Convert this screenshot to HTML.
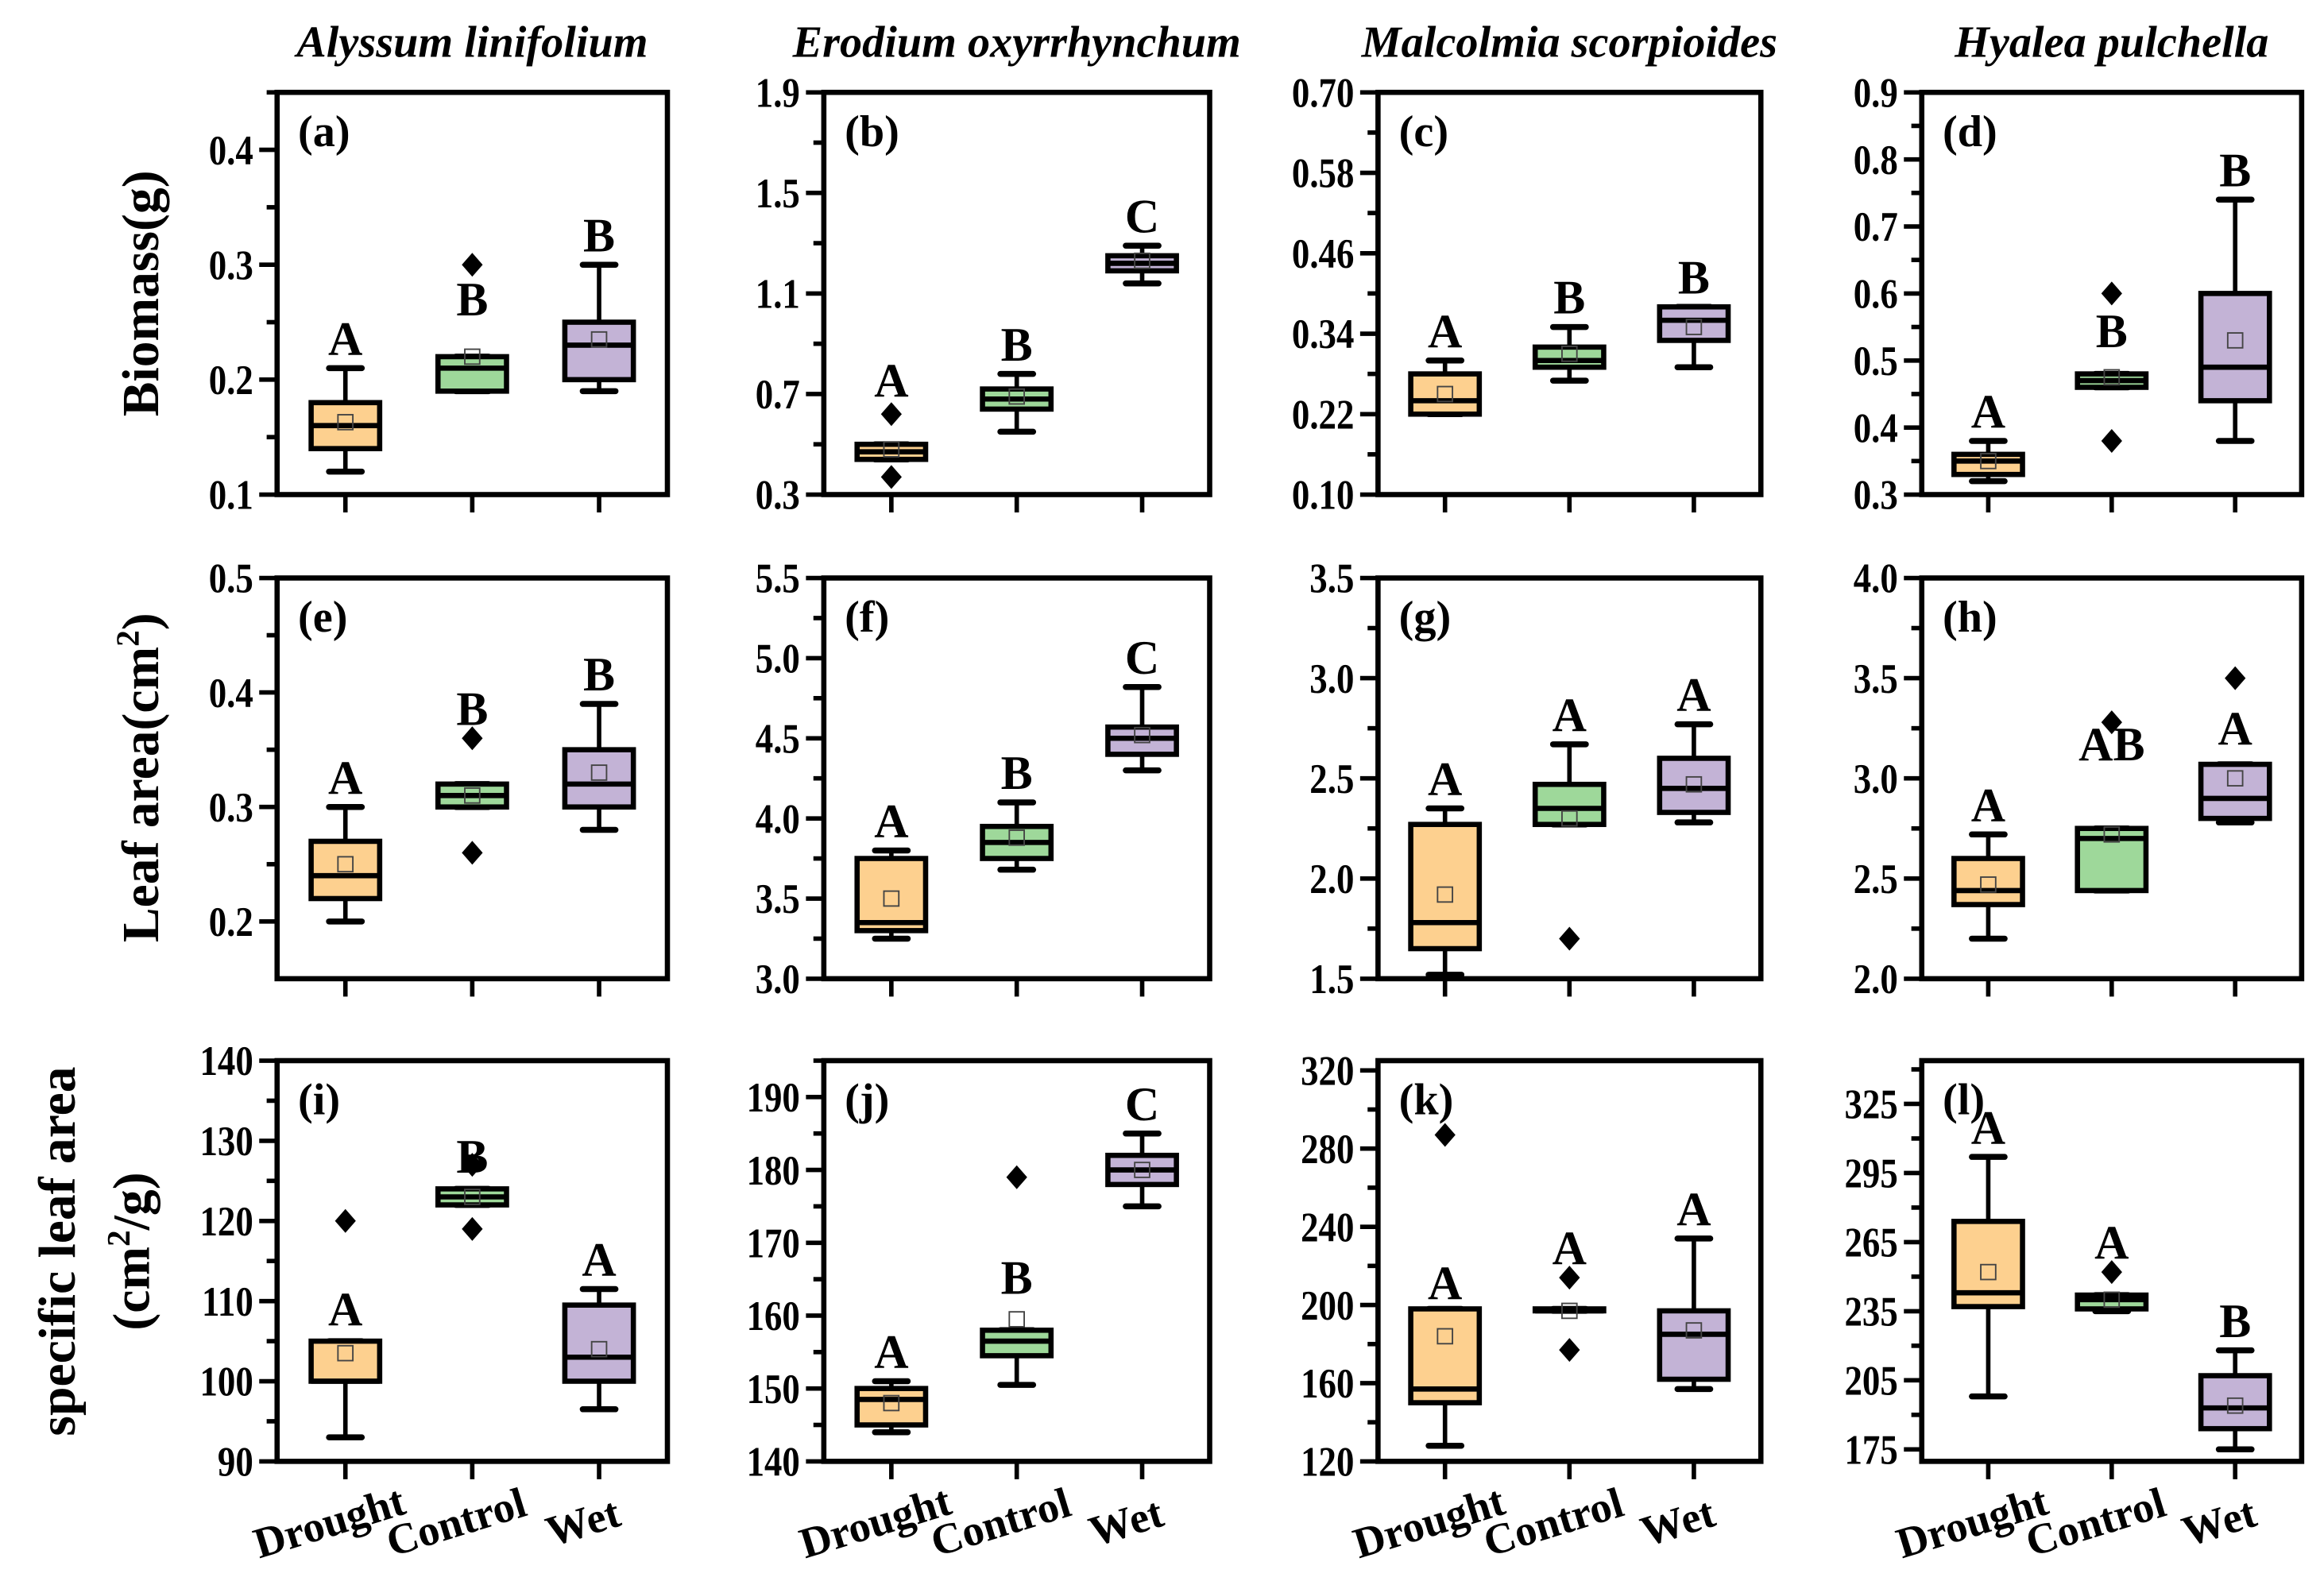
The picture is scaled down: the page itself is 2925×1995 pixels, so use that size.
<!DOCTYPE html>
<html><head><meta charset="utf-8"><style>
html,body{margin:0;padding:0;background:#fff;}
svg{display:block;}
text{font-family:"Liberation Serif",serif;font-weight:bold;fill:#000;}
</style></head><body>
<svg id="chart" width="2925" height="1995" viewBox="0 0 1560 1064" xmlns="http://www.w3.org/2000/svg"></svg>
<script>
const categories = ["Drought","Control","Wet"];
const colors = ["#FDD08F","#9ED89A","#C3B3D6"];
const species = ["Alyssum linifolium","Erodium oxyrrhynchum","Malcolmia scorpioides","Hyalea pulchella"];
const panelLabels = ["(a)","(b)","(c)","(d)","(e)","(f)","(g)","(h)","(i)","(j)","(k)","(l)"];
// y ranges [min,max,majorStep,decimals]
const yRanges = [
 [0.1,0.45,0.1,1],[0.3,1.9,0.4,1],[0.10,0.70,0.12,2],[0.3,0.9,0.1,1],
 [0.15,0.5,0.1,1],[3.0,5.5,0.5,1],[1.5,3.5,0.5,1],[2.0,4.0,0.5,1],
 [90,140,10,0],[140,195,10,0],[120,325,40,0],[169.8,343.8,30,0]];
const tickStarts = [0.1,0.3,0.10,0.3, 0.2,3.0,1.5,2.0, 90,140,120,175];
// [min,q1,median,q3,max,mean]
const boxStats = [
 [[0.12,0.14,0.16,0.18,0.21,0.163],[0.19,0.19,0.21,0.22,0.22,0.22],[0.19,0.20,0.23,0.25,0.30,0.235]],
 [[0.44,0.44,0.47,0.50,0.50,0.48],[0.55,0.64,0.68,0.72,0.78,0.69],[1.14,1.19,1.22,1.25,1.29,1.23]],
 [[0.22,0.22,0.24,0.28,0.30,0.25],[0.27,0.29,0.30,0.32,0.35,0.31],[0.29,0.33,0.36,0.38,0.38,0.35]],
 [[0.32,0.33,0.35,0.36,0.38,0.35],[0.46,0.46,0.47,0.48,0.48,0.475],[0.38,0.44,0.49,0.60,0.74,0.53]],
 [[0.20,0.22,0.24,0.27,0.30,0.25],[0.30,0.30,0.31,0.32,0.32,0.31],[0.28,0.30,0.32,0.35,0.39,0.33]],
 [[3.25,3.30,3.35,3.75,3.80,3.5],[3.68,3.75,3.85,3.95,4.10,3.88],[4.30,4.40,4.50,4.57,4.82,4.52]],
 [[1.52,1.65,1.78,2.27,2.35,1.92],[2.27,2.27,2.35,2.47,2.67,2.30],[2.28,2.33,2.45,2.60,2.77,2.47]],
 [[2.20,2.37,2.44,2.60,2.72,2.47],[2.44,2.44,2.70,2.75,2.75,2.72],[2.78,2.80,2.90,3.07,3.07,3.0]],
 [[93,100,100,105,105,103.5],[122,122,123,124,124,123],[96.5,100,103,109.5,111.5,104]],
 [[144,145,148.5,150,151,148],[150.5,154.5,156.5,158,158,159.5],[175,178,180,182,185,180]],
 [[128,150,157,198,198,184],[197,197,197,198,198,197],[157,162,185,197,234,187]],
 [[198,237,243,274,302,252],[235,236,240,242,242,240],[175,184,193,207,218,194]]];
const outliers = [
 [[],[0.30],[]],[[0.62,0.37],[],[]],[[],[],[]],[[],[0.60,0.38],[]],
 [[],[0.36,0.26],[]],[[],[],[]],[[],[1.70],[]],[[],[3.28],[3.5]],
 [[120],[127,119],[]],[[],[179],[]],[[287],[214,177],[]],[[],[252],[]]];
const letters = [
 ["A","B","B"],["A","B","C"],["A","B","B"],["A","B","B"],
 ["A","B","B"],["A","B","C"],["A","A","A"],["A","AB","A"],
 ["A","B","A"],["A","B","C"],["A","A","A"],["A","A","B"]];
// letter baseline override (data units) else null
const letterBase = [
 [null,0.256,null],[0.69,null,null],[null,null,null],[null,0.52,null],
 [null,null,null],[null,null,null],[null,null,null],[null,3.09,3.17],
 [107,126,null],[null,163,null],[203,null,null],[null,null,null]];

const svg = document.getElementById('chart');
const NS = "http://www.w3.org/2000/svg";
function mk(tag, attrs, parent){const e=document.createElementNS(NS,tag);for(const k in attrs)e.setAttribute(k,attrs[k]);(parent||svg).appendChild(e);return e;}
const colX = [[186,448],[553,812],[925,1182],[1290,1545]];
const rowY = [[62,332],[388,657],[712,981]];
const xFracs = [0.175,0.5,0.825];

species.forEach((s,i)=>{
  const t = mk('text',{x:(colX[i][0]+colX[i][1])/2,y:38,'text-anchor':'middle','font-size':30,'font-style':'italic'});
  
  
  t.textContent = s;
});

for(let p=0;p<12;p++){
  const r=Math.floor(p/4), c=p%4;
  const [x0,x1]=colX[c], [y0,y1]=rowY[r];
  const [ymin,ymax,step,dec]=yRanges[p];
  const g = mk('g',{});
  
  
  const ys = v => y1 - (v-ymin)/(ymax-ymin)*(y1-y0);
  const xs = k => x0 + xFracs[k]*(x1-x0);
  for(let v=tickStarts[p]; v<=ymax+1e-9; v+=step/2){
    const maj = Math.abs(((v-tickStarts[p])/step) - Math.round((v-tickStarts[p])/step))<1e-6;
    const y=ys(v);
    const tk = mk('line',{x1:x0-(maj?12:7),x2:x0,y1:y,y2:y,stroke:'#000','stroke-width':3},g);
    
    
    if(maj){
      const tl = mk('text',{x:x0-16,y:y+9,'text-anchor':'end','font-size':26,transform:`translate(${x0-16},${y}) scale(0.92,1.08) translate(${-(x0-16)},${-y})`},g);
      
      
      tl.textContent = v.toFixed(dec);
    }
  }
  for(let k=0;k<3;k++){
    const bt = mk('line',{x1:xs(k),x2:xs(k),y1:y1,y2:y1+12,stroke:'#000','stroke-width':3},g);
    
    
  }
  const fr = mk('rect',{x:x0,y:y0,width:x1-x0,height:y1-y0,fill:'none',stroke:'#000','stroke-width':3.5},g);
  
  
  const pl = mk('text',{x:x0+14,y:y0+36,'font-size':30},g);
  
  
  pl.textContent = panelLabels[p];
  for(let k=0;k<3;k++){
    const [mn,q1,md,q3,mx,mean]=boxStats[p][k];
    const cx=xs(k), w=46, cap=22;
    const bg = mk('g',{},g);
    
    
    mk('line',{x1:cx,x2:cx,y1:ys(mx),y2:ys(q3),stroke:'#000','stroke-width':3},bg);
    mk('line',{x1:cx,x2:cx,y1:ys(q1),y2:ys(mn),stroke:'#000','stroke-width':3},bg);
    mk('line',{x1:cx-cap/2,x2:cx+cap/2,y1:ys(mx),y2:ys(mx),stroke:'#000','stroke-width':4,'stroke-linecap':'round'},bg);
    mk('line',{x1:cx-cap/2,x2:cx+cap/2,y1:ys(mn),y2:ys(mn),stroke:'#000','stroke-width':4,'stroke-linecap':'round'},bg);
    mk('rect',{x:cx-w/2,y:ys(q3),width:w,height:Math.max(ys(q1)-ys(q3),1),fill:colors[k],stroke:'#000','stroke-width':3.5},bg);
    mk('line',{x1:cx-w/2,x2:cx+w/2,y1:ys(md),y2:ys(md),stroke:'#000','stroke-width':3.5},bg);
    mk('rect',{x:cx-5,y:ys(mean)-5,width:10,height:10,fill:'none',stroke:'#444','stroke-width':1},bg);
    let top = ys(mx);
    outliers[p][k].forEach(o=>{
      const oy=ys(o);
      const d = mk('path',{d:`M${cx} ${oy-8}L${cx+7} ${oy}L${cx} ${oy+8}L${cx-7} ${oy}Z`,fill:'#000'},bg);
      
      
      top=Math.min(top,oy);
    });
    const lb = letterBase[p][k]!==null ? ys(letterBase[p][k]) : top-9;
    const lt = mk('text',{x:cx,y:lb,'text-anchor':'middle','font-size':32},bg);
    
    
    lt.textContent = letters[p][k];
    if(r===2){
      const xl = mk('text',{x:0,y:0,'text-anchor':'middle','font-size':29,transform:`translate(${cx-8},${y1+50}) rotate(-17)`},g);
      
      
      xl.textContent = categories[k];
    }
  }
}
function ylab(txt,x,y,name){
  const t = mk('text',{x:0,y:0,'text-anchor':'middle','font-size':35,transform:`translate(${x},${y}) rotate(-90)`});
  
  
  t.innerHTML = txt;
}
ylab('Biomass(g)',106,197,'y-axis-title-biomass');
ylab('Leaf area(cm<tspan font-size="22" dy="-13">2</tspan><tspan dy="13">)</tspan>',106,522,'y-axis-title-leaf-area');
ylab('specific leaf area',50,840,'y-axis-title-sla');
ylab('(cm<tspan font-size="22" dy="-13">2</tspan><tspan dy="13">/g)</tspan>',100,840,'y-axis-title-sla-unit');
</script>
</body></html>
